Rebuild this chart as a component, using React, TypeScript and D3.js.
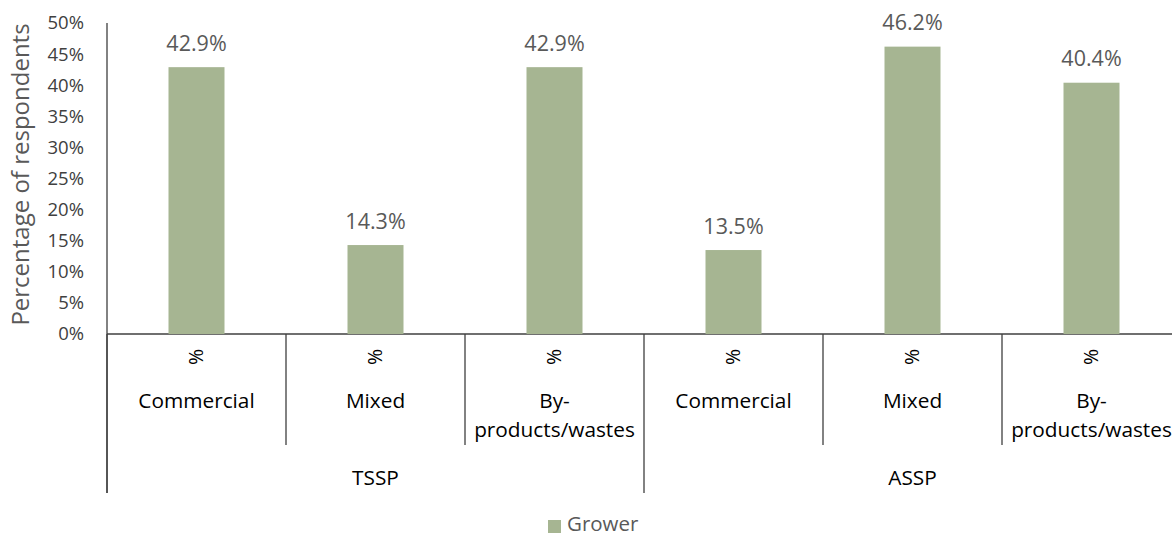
import React from "react";
import * as d3 from "d3";

const groups = ["TSSP", "ASSP"];
const categories = ["Commercial", "Mixed", "By-products/wastes"];
const values = [42.9, 14.3, 42.9, 13.5, 46.2, 40.4];
const yTicks = [0, 5, 10, 15, 20, 25, 30, 35, 40, 45, 50];
const seriesName = "Grower";

const W = 1172, H = 537;
const FONT = "'Open Sans', sans-serif";
const TEXT = "#595959";
const TICK = "#404040";
const LINE = "#3f3f3f";
const BAR = "#A6B592";

export default function App() {
  const left = 107, catW = 179;
  const items = groups.flatMap((g) => categories.map((c) => ({ g, c })));
  const x = d3.scaleBand<number>().domain(items.map((_, i) => i)).range([left, left + catW * items.length]).paddingInner(0).paddingOuter(0);
  const y = d3.scaleLinear().domain([0, 50]).range([334, 23]);
  const barW = 56;
  const y0 = y(0);
  const CAT = 20.8;

  return (
    <svg width={W} height={H} style={{ position: "absolute", left: 0, top: 0, background: "#fff" }} fontFamily={FONT}>
      <line x1={left} x2={left} y1={y(50)} y2={493} stroke={LINE} strokeWidth={1.3} />
      <line x1={left} x2={W} y1={y0} y2={y0} stroke={LINE} strokeWidth={1.3} />
      {yTicks.map((t) => (
        <text key={t} x={84} y={y(t)} dy="0.35em" textAnchor="end" fontSize={18.5} fill={TICK}>{t}%</text>
      ))}
      <text transform={`translate(21,${y(25) - 4}) rotate(-90)`} textAnchor="middle" dy="0.35em" fontSize={24} fill={TEXT}>Percentage of respondents</text>
      {items.map((it, i) => {
        const cx = (x(i) as number) + x.bandwidth() / 2;
        const v = values[i];
        const isBy = it.c.startsWith("By");
        return (
          <g key={i}>
            <rect x={cx - barW / 2} y={y(v)} width={barW} height={y0 - y(v)} fill={BAR} />
            <text x={cx} y={y(v) - 24} dy="0.35em" textAnchor="middle" fontSize={21.5} fill={TEXT}>{v.toFixed(1)}%</text>
            <text transform={`translate(${cx},357) rotate(-90)`} textAnchor="middle" dy="0.35em" fontSize={19.5} fill="#000">%</text>
            {isBy ? (
              <>
                <text x={cx} y={401} dy="0.35em" textAnchor="middle" fontSize={CAT} fill="#000">By-</text>
                <text x={cx} y={430} dy="0.35em" textAnchor="middle" fontSize={CAT} fill="#000">products/wastes</text>
              </>
            ) : (
              <text x={cx} y={401} dy="0.35em" textAnchor="middle" fontSize={CAT} fill="#000">{it.c}</text>
            )}
          </g>
        );
      })}
      {items.map((_, i) => i % 3 !== 0 ? (
        <line key={"s" + i} x1={x(i) as number} x2={x(i) as number} y1={y0} y2={445} stroke={LINE} strokeWidth={1.3} />
      ) : null)}
      {groups.map((g, gi) => {
        const gx = x(gi * 3) as number;
        const cx = gx + catW * 1.5;
        return (
          <g key={g}>
            <line x1={gx} x2={gx} y1={y0} y2={493} stroke={LINE} strokeWidth={1.3} />
            <text x={cx} y={478} dy="0.35em" textAnchor="middle" fontSize={CAT} fill="#000">{g}</text>
          </g>
        );
      })}
      <rect x={548} y={520} width={13} height={13} fill={BAR} />
      <text x={567} y={524} dy="0.35em" fontSize={20.5} fill={TEXT}>{seriesName}</text>
    </svg>
  );
}
